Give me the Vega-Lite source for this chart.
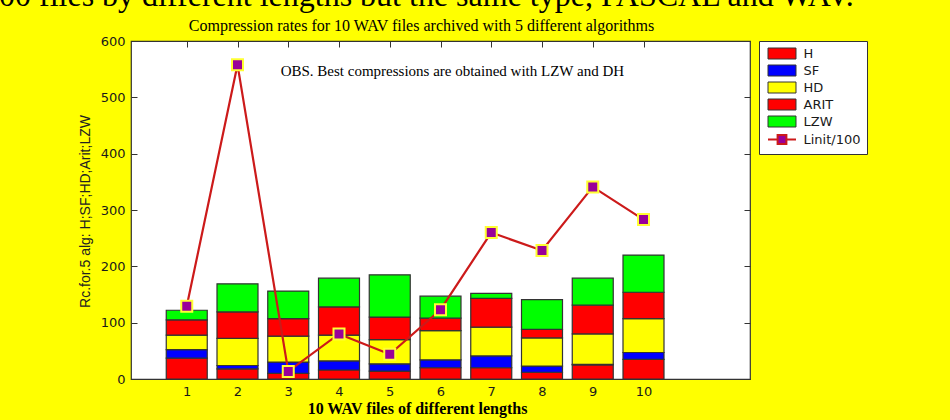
{
  "$schema": "https://vega.github.io/schema/vega-lite/v6.json",
  "autosize": "none",
  "width": 619,
  "height": 338,
  "padding": {"left": 131, "top": 41, "right": 200, "bottom": 41},
  "background": "#ffff00",
  "title": {
    "text": "00 files by different lengths but the same type, PASCAL and WAV.",
    "anchor": "start",
    "frame": "group",
    "font": "Liberation Serif",
    "fontSize": 32,
    "fontWeight": "normal",
    "color": "#000000",
    "baseline": "alphabetic",
    "offset": 0,
    "dx": -132,
    "dy": 21
  },
  "config": {
    "view": {"fill": "white", "stroke": "#333333", "strokeWidth": 1.2},
    "axis": {
      "domain": false,
      "grid": false,
      "tickColor": "#333333",
      "tickSize": -6,
      "tickWidth": 1,
      "labelFont": "DejaVu Sans",
      "labelFontSize": 13,
      "labelColor": "#1a1a1a",
      "labelPadding": 12,
      "titleColor": "#000000"
    }
  },
  "datasets": {
    "bars": [
      {"file": 1, "alg": "H", "k": 1, "value": 37},
      {"file": 1, "alg": "SF", "k": 2, "value": 15},
      {"file": 1, "alg": "HD", "k": 3, "value": 26},
      {"file": 1, "alg": "ARIT", "k": 4, "value": 27},
      {"file": 1, "alg": "LZW", "k": 5, "value": 17},
      {"file": 2, "alg": "H", "k": 1, "value": 18},
      {"file": 2, "alg": "SF", "k": 2, "value": 6},
      {"file": 2, "alg": "HD", "k": 3, "value": 48},
      {"file": 2, "alg": "ARIT", "k": 4, "value": 47},
      {"file": 2, "alg": "LZW", "k": 5, "value": 50},
      {"file": 3, "alg": "H", "k": 1, "value": 10},
      {"file": 3, "alg": "SF", "k": 2, "value": 20},
      {"file": 3, "alg": "HD", "k": 3, "value": 46},
      {"file": 3, "alg": "ARIT", "k": 4, "value": 31},
      {"file": 3, "alg": "LZW", "k": 5, "value": 49},
      {"file": 4, "alg": "H", "k": 1, "value": 16},
      {"file": 4, "alg": "SF", "k": 2, "value": 16},
      {"file": 4, "alg": "HD", "k": 3, "value": 46},
      {"file": 4, "alg": "ARIT", "k": 4, "value": 50},
      {"file": 4, "alg": "LZW", "k": 5, "value": 51},
      {"file": 5, "alg": "H", "k": 1, "value": 14},
      {"file": 5, "alg": "SF", "k": 2, "value": 13},
      {"file": 5, "alg": "HD", "k": 3, "value": 43},
      {"file": 5, "alg": "ARIT", "k": 4, "value": 40},
      {"file": 5, "alg": "LZW", "k": 5, "value": 75},
      {"file": 6, "alg": "H", "k": 1, "value": 20},
      {"file": 6, "alg": "SF", "k": 2, "value": 14},
      {"file": 6, "alg": "HD", "k": 3, "value": 52},
      {"file": 6, "alg": "ARIT", "k": 4, "value": 22},
      {"file": 6, "alg": "LZW", "k": 5, "value": 39},
      {"file": 7, "alg": "H", "k": 1, "value": 20},
      {"file": 7, "alg": "SF", "k": 2, "value": 21},
      {"file": 7, "alg": "HD", "k": 3, "value": 51},
      {"file": 7, "alg": "ARIT", "k": 4, "value": 51},
      {"file": 7, "alg": "LZW", "k": 5, "value": 9},
      {"file": 8, "alg": "H", "k": 1, "value": 12},
      {"file": 8, "alg": "SF", "k": 2, "value": 11},
      {"file": 8, "alg": "HD", "k": 3, "value": 50},
      {"file": 8, "alg": "ARIT", "k": 4, "value": 15},
      {"file": 8, "alg": "LZW", "k": 5, "value": 53},
      {"file": 9, "alg": "H", "k": 1, "value": 25},
      {"file": 9, "alg": "SF", "k": 2, "value": 1},
      {"file": 9, "alg": "HD", "k": 3, "value": 54},
      {"file": 9, "alg": "ARIT", "k": 4, "value": 51},
      {"file": 9, "alg": "LZW", "k": 5, "value": 48},
      {"file": 10, "alg": "H", "k": 1, "value": 35},
      {"file": 10, "alg": "SF", "k": 2, "value": 12},
      {"file": 10, "alg": "HD", "k": 3, "value": 60},
      {"file": 10, "alg": "ARIT", "k": 4, "value": 47},
      {"file": 10, "alg": "LZW", "k": 5, "value": 66}
    ],
    "line": [
      {"file": 1, "linit": 129},
      {"file": 2, "linit": 558},
      {"file": 3, "linit": 13.5},
      {"file": 4, "linit": 80},
      {"file": 5, "linit": 44},
      {"file": 6, "linit": 123},
      {"file": 7, "linit": 260},
      {"file": 8, "linit": 228},
      {"file": 9, "linit": 341},
      {"file": 10, "linit": 283}
    ],
    "note": [
      {"note": "OBS. Best compressions are obtained with LZW and DH"}
    ]
  },
  "resolve": {"axis": {"x": "independent", "y": "independent"}},
  "layer": [
    {
      "data": {"name": "bars"},
      "mark": {"type": "bar", "width": 41, "stroke": "#333333", "strokeWidth": 1.2},
      "encoding": {
        "x": {
          "field": "file",
          "type": "quantitative",
          "scale": {"domain": [0, 12], "nice": false, "zero": false},
          "axis": {
            "orient": "bottom",
            "values": [1, 2, 3, 4, 5, 6, 7, 8, 9, 10],
            "title": "10 WAV files of different lengths",
            "titleFont": "Liberation Serif",
            "titleFontSize": 16,
            "titleFontWeight": "bold",
            "titleX": 286,
            "titleY": 34,
            "titleAlign": "center",
            "titleBaseline": "alphabetic"
          }
        },
        "y": {
          "field": "value",
          "type": "quantitative",
          "stack": "zero",
          "scale": {"domain": [0, 600], "nice": false},
          "axis": {
            "orient": "left",
            "values": [0, 100, 200, 300, 400, 500, 600],
            "title": "Rc.for.5 alg: H;SF;HD;Arit;LZW",
            "titleFont": "Liberation Sans",
            "titleFontSize": 14,
            "titleFontWeight": "normal",
            "titleColor": "#222222",
            "titleAngle": 270,
            "titleX": -46,
            "titleY": 170,
            "titleAlign": "center",
            "titleBaseline": "middle"
          }
        },
        "order": {"field": "k", "type": "quantitative", "sort": "ascending"},
        "color": {
          "field": "alg",
          "type": "nominal",
          "scale": {
            "domain": ["H", "SF", "HD", "ARIT", "LZW", "Linit/100"],
            "range": ["#ff0000", "#0000ff", "#ffff00", "#ff0000", "#00ff00", "#990099"]
          },
          "legend": {
            "orient": "none",
            "legendX": 628,
            "legendY": 0,
            "title": null,
            "fillColor": "#ffffff",
            "strokeColor": "#333333",
            "padding": 6,
            "rowPadding": 2,
            "symbolSize": 121,
            "symbolOffset": 10.5,
            "symbolOpacity": 1,
            "symbolType": {"expr": "datum.label === 'Linit/100' ? 'M-2.545,0H-0.85M0.85,0H2.545M-0.8,-0.8H0.8V0.8H-0.8Z' : 'M-2.545,-1H2.545V1H-2.545Z'"},
            "symbolStrokeColor": {"expr": "datum.label === 'Linit/100' ? '#cc1a1a' : '#333333'"},
            "symbolStrokeWidth": {"expr": "datum.label === 'Linit/100' ? 2 : 1"},
            "labelOffset": 15,
            "labelFont": "DejaVu Sans",
            "labelFontSize": 13,
            "labelColor": "#1a1a1a"
          }
        }
      }
    },
    {
      "data": {"name": "line"},
      "mark": {"type": "line", "color": "#cc1a1a", "strokeWidth": 2.2},
      "encoding": {
        "x": {
          "field": "file",
          "type": "quantitative",
          "axis": {
            "orient": "top",
            "values": [1, 2, 3, 4, 5, 6, 7, 8, 9, 10],
            "labels": false,
            "title": "Compression rates for 10 WAV files archived with 5 different algorithms",
            "titleFont": "Liberation Serif",
            "titleFontSize": 16,
            "titleFontWeight": "normal",
            "titleX": 290,
            "titleY": -11,
            "titleAlign": "center",
            "titleBaseline": "alphabetic"
          }
        },
        "y": {
          "field": "linit",
          "type": "quantitative",
          "axis": {
            "orient": "right",
            "values": [0, 100, 200, 300, 400, 500, 600],
            "labels": false,
            "title": null
          }
        }
      }
    },
    {
      "data": {"name": "line"},
      "mark": {"type": "point", "shape": "square", "filled": true, "color": "#990099", "stroke": "#ffff33", "strokeWidth": 2, "size": 121, "opacity": 1},
      "encoding": {
        "x": {"field": "file", "type": "quantitative", "axis": null},
        "y": {"field": "linit", "type": "quantitative", "axis": null}
      }
    },
    {
      "data": {"name": "note"},
      "mark": {"type": "text", "font": "Liberation Serif", "fontSize": 15, "color": "#000000", "align": "left", "baseline": "alphabetic"},
      "encoding": {
        "x": {"datum": 2.85, "type": "quantitative", "axis": null},
        "y": {"datum": 537, "type": "quantitative", "axis": null},
        "text": {"field": "note", "type": "nominal"}
      }
    }
  ]
}
